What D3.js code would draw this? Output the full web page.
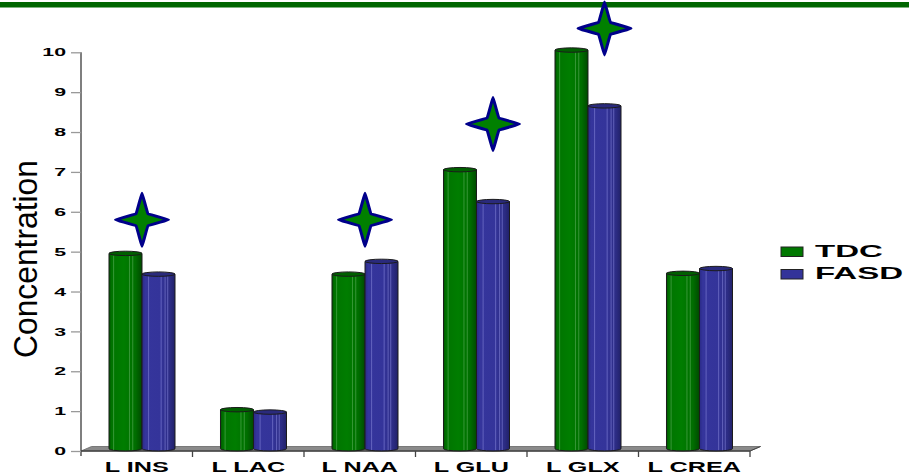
<!DOCTYPE html>
<html>
<head>
<meta charset="utf-8">
<script src="https://cdn.jsdelivr.net/npm/d3@7/dist/d3.min.js"></script>
<style>
  html, body { margin: 0; padding: 0; background: #fff; }
  svg { display: block; font-family: "Liberation Sans", Arial, sans-serif; }
</style>
</head>
<body>
<svg id="chart" width="909" height="475"></svg>
<script>
// Metabolite concentrations, TDC vs FASD groups
const categories = ["L INS", "L LAC", "L NAA", "L GLU", "L GLX", "L CREA"];
const seriesNames = ["TDC", "FASD"];
const tdcValues  = [4.9, 0.98, 4.38, 7.0, 10.0, 4.4];
const fasdValues = [4.38, 0.92, 4.7, 6.2, 8.6, 4.52];
const yTicks = [0, 1, 2, 3, 4, 5, 6, 7, 8, 9, 10];
// significance markers: category, height on the value axis, and what they sit over
const sigCategories = ["L INS", "L NAA", "L GLU", "L GLX"];
const sigLevels     = [5.8, 5.8, 8.2, 10.6];
const sigAlign      = ["pair", "pair", "FASD", "FASD"];

const svg = d3.select("#chart");
const W = 909, H = 475;
const left = 81, right = 750, base = 451, top10 = 52.3;
const depthX = 10.5, depthY = 4.5;

const colors = { TDC: "#007800", FASD: "#333399" };

const x = d3.scaleBand().domain(categories).range([left, right]);
const bw = x.bandwidth();
const xs = d3.scaleBand().domain(seriesNames).range([bw * 0.204, bw * 0.796]);
const y = d3.scaleLinear().domain([0, 10]).range([base, top10]);

// stretch a text horizontally along its reading direction
function stretch(sel, k) {
  sel.each(function () {
    const l = this.getComputedTextLength();
    d3.select(this).attr("textLength", l * k).attr("lengthAdjust", "spacingAndGlyphs");
  });
}

// header rule
svg.append("rect").attr("x", 0).attr("y", 2).attr("width", W).attr("height", 5.5).attr("fill", "#006600");

// gradients for cylinders
const defs = svg.append("defs");
const gGreen = defs.append("linearGradient").attr("id", "gGreen").attr("x1", 0).attr("x2", 1).attr("y1", 0).attr("y2", 0);
[[0, "#005400"], [0.08, "#007400"], [0.45, "#007d00"], [0.8, "#006e00"], [1, "#004a00"]]
  .forEach(s => gGreen.append("stop").attr("offset", s[0]).attr("stop-color", s[1]));
const gBlue = defs.append("linearGradient").attr("id", "gBlue").attr("x1", 0).attr("x2", 1).attr("y1", 0).attr("y2", 0);
[[0, "#2a2a85"], [0.1, "#35359c"], [0.55, "#34349a"], [0.85, "#2c2c84"], [1, "#212168"]]
  .forEach(s => gBlue.append("stop").attr("offset", s[0]).attr("stop-color", s[1]));
const blur = defs.append("filter").attr("id", "soft").attr("x", "-20%").attr("y", "-20%").attr("width", "140%").attr("height", "140%");
blur.append("feGaussianBlur").attr("stdDeviation", 0.6);

// floor
svg.append("path")
  .attr("d", `M${left},${base} L${right},${base} L${right + depthX},${base - depthY} L${left + depthX},${base - depthY} Z`)
  .attr("fill", "#8a8a8a").attr("stroke", "#666").attr("stroke-width", 0.8);

// y axis
const yAxis = svg.append("g").attr("transform", `translate(${left},0)`)
  .call(d3.axisLeft(y).tickValues(yTicks).tickSize(10).tickPadding(5).tickFormat(d3.format("d")));
yAxis.select(".domain").attr("stroke", "#555").attr("stroke-width", 1.5).attr("d", `M0,${top10}V${base + 5}`);
yAxis.selectAll(".tick line").attr("stroke", "#999").attr("stroke-width", 1.3);
yAxis.selectAll(".tick text").attr("font-size", 11.5).attr("font-weight", "bold").attr("fill", "#000");
stretch(yAxis.selectAll(".tick text"), 1.85);

// x axis: baseline, boundary ticks, category labels
svg.append("line").attr("x1", left).attr("x2", right).attr("y1", base).attr("y2", base)
  .attr("stroke", "#444").attr("stroke-width", 1.3);
const bounds = categories.map(c => x(c)).concat([right]).slice(1);
svg.append("g").selectAll("line").data(bounds).join("line")
  .attr("x1", d => d).attr("x2", d => d).attr("y1", base).attr("y2", base + 6)
  .attr("stroke", "#444").attr("stroke-width", 1.3);
svg.append("line").attr("x1", right).attr("y1", base).attr("x2", right + depthX).attr("y2", base - depthY)
  .attr("stroke", "#444").attr("stroke-width", 1);

const xAxis = svg.append("g").attr("transform", `translate(0,${base})`)
  .call(d3.axisBottom(x).tickSize(0).tickPadding(11));
xAxis.select(".domain").remove();
xAxis.selectAll(".tick text").attr("font-size", 14).attr("font-weight", "bold").attr("fill", "#000");
stretch(xAxis.selectAll(".tick text"), 1.8);

// cylinders
const rows = [];
categories.forEach((c, i) => {
  rows.push({ cat: c, series: "TDC", value: tdcValues[i] });
  rows.push({ cat: c, series: "FASD", value: fasdValues[i] });
});
const ry = 2.2;
const barBase = base - depthY / 2;
const bars = svg.append("g").selectAll("g").data(rows).join("g")
  .attr("transform", d => `translate(${x(d.cat) + xs(d.series) + depthX / 2},0)`);
const w = xs.bandwidth();
bars.append("path")
  .attr("d", d => {
    const t = y(d.value) - depthY / 2;
    return `M0,${t} L0,${barBase} A${w / 2},${ry} 0 0 0 ${w},${barBase} L${w},${t} Z`;
  })
  .attr("fill", d => d.series === "TDC" ? "url(#gGreen)" : "url(#gBlue)")
  .attr("stroke", "#1c1c1c").attr("stroke-width", 1);
const highlights = { TDC: [0.14, 0.62, 0.72], FASD: [0.2, 0.58, 0.7, 0.78] };
bars.each(function (d) {
  const t = y(d.value) - depthY / 2;
  d3.select(this).selectAll("line.hl").data(highlights[d.series]).join("line").attr("class", "hl")
    .attr("x1", f => f * w).attr("x2", f => f * w)
    .attr("y1", t + ry).attr("y2", barBase + ry * 0.6)
    .attr("stroke", d.series === "TDC" ? "#52a852" : "#7a7ad0")
    .attr("stroke-width", 0.9).attr("opacity", 0.75);
});
bars.append("ellipse")
  .attr("cx", w / 2).attr("cy", d => y(d.value) - depthY / 2)
  .attr("rx", w / 2).attr("ry", ry)
  .attr("fill", d => d.series === "TDC" ? "#005f00" : "#2a2a7c")
  .attr("stroke", "#1c1c1c").attr("stroke-width", 1);

// significance stars: four points with slightly concave sides
const R = 26.5, r = 8.5;
const starPts = d3.range(8).map(i => {
  const a = -Math.PI / 2 + i * Math.PI / 4;
  const rad = i % 2 === 0 ? R : r;
  return [rad * Math.cos(a), rad * Math.sin(a)];
});
const starPath = d3.line().curve(d3.curveCardinalClosed.tension(0.85))(starPts);
const sig = sigCategories.map((cat, i) => ({ cat, level: sigLevels[i], align: sigAlign[i] }));
svg.append("g").selectAll("path").data(sig).join("path")
  .attr("d", starPath)
  .attr("transform", d => {
    const cx = d.align === "pair"
      ? x(d.cat) + bw / 2 + depthX / 2
      : x(d.cat) + xs(d.align) + w / 2 + depthX / 2;
    return `translate(${cx},${y(d.level)})`;
  })
  .attr("fill", "#008000").attr("stroke", "#00008b").attr("stroke-width", 3)
  .attr("stroke-linejoin", "round").attr("filter", "url(#soft)");

// y axis title
svg.append("text")
  .attr("transform", "translate(37,259) rotate(-90)")
  .attr("text-anchor", "middle")
  .attr("font-size", 33).attr("fill", "#000")
  .attr("textLength", 198).attr("lengthAdjust", "spacingAndGlyphs")
  .text("Concentration");

// legend
const legend = svg.append("g").selectAll("g").data(seriesNames).join("g")
  .attr("transform", (d, i) => `translate(781,${247 + i * 22.5})`);
legend.append("rect").attr("width", 22).attr("height", 9.5)
  .attr("fill", d => colors[d]).attr("stroke", "#222").attr("stroke-width", 1);
const lt = legend.append("text").attr("x", 34).attr("y", 9.8)
  .attr("font-size", 16.5).attr("font-weight", "bold").attr("fill", "#000")
  .text(d => d);
stretch(lt, 2.0);
</script>
</body>
</html>
